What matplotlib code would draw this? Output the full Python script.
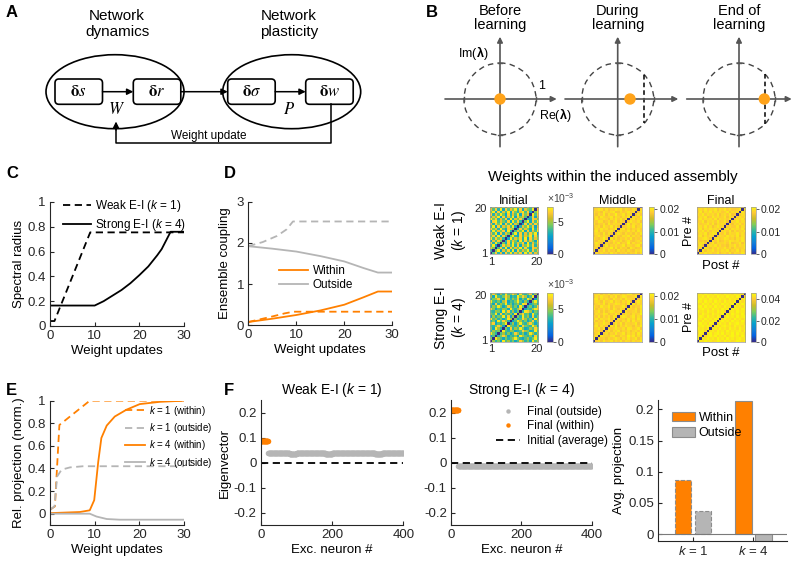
import numpy as np
import matplotlib
matplotlib.use("Agg")
import matplotlib.pyplot as plt
from matplotlib.colors import LinearSegmentedColormap
from matplotlib.patches import Ellipse, FancyBboxPatch, Circle

plt.rcParams["font.family"] = ["Liberation Sans", "DejaVu Sans"]
plt.rcParams["mathtext.fontset"] = "custom"
plt.rcParams["mathtext.rm"] = "Liberation Sans"
plt.rcParams["mathtext.it"] = "Liberation Sans:italic"
plt.rcParams["mathtext.bf"] = "Liberation Sans:bold"
plt.rcParams["axes.unicode_minus"] = False

W, H = 800, 561
ORANGE = "#ff8000"
GRAY = "#b5b5b5"
INK = "#262626"

# ---- C: spectral radius vs weight updates
C_X_WEAK = [0, 1, 9, 30]
C_WEAK = [0.04, 0.04, 0.755, 0.755]
C_X_STRONG = [0, 10, 12, 14, 16, 18, 20, 22, 24, 25, 26, 27, 30]
C_STRONG = [0.165, 0.165, 0.2, 0.245, 0.29, 0.345, 0.41, 0.48, 0.57, 0.62, 0.69, 0.76, 0.76]

# ---- D: ensemble coupling
D_X_OUT_WEAK = [0, 3, 6, 8, 9.3, 30]
D_OUT_WEAK = [1.92, 2.02, 2.17, 2.33, 2.52, 2.52]
D_X_OUT_STRONG = [0, 5, 10, 15, 20, 24, 27, 30]
D_OUT_STRONG = [1.92, 1.86, 1.79, 1.68, 1.55, 1.39, 1.28, 1.28]
D_X_IN_STRONG = [0, 5, 10, 15, 20, 24, 27, 30]
D_IN_STRONG = [0.08, 0.16, 0.25, 0.36, 0.5, 0.68, 0.82, 0.82]
D_X_IN_WEAK = [0, 4.5, 7.6, 9.4, 30]
D_IN_WEAK = [0.08, 0.2, 0.29, 0.33, 0.33]

# ---- E: relative projection
E_X_W_IN = [0, 1.1, 2.1, 8.9, 30]
E_W_IN = [0.035, 0.065, 0.785, 1.0, 1.0]
E_X_W_OUT = [0, 1, 1.6, 2.6, 4.5, 7.4, 30]
E_W_OUT = [0.035, 0.065, 0.33, 0.39, 0.41, 0.42, 0.42]
E_X_S_IN = [0, 6.7, 8.9, 9.9, 10.8, 11.5, 12.7, 14.5, 17.1, 20.1, 24.6, 30]
E_S_IN = [0.005, 0.015, 0.03, 0.12, 0.46, 0.67, 0.78, 0.86, 0.92, 0.97, 0.99, 1.0]
E_X_S_OUT = [0, 8.9, 10.4, 12.7, 15.6, 30]
E_S_OUT = [0.0, 0.0, -0.025, -0.047, -0.053, -0.053]

# ---- F: eigenvector entries, one value per assembly of 20 neurons
ASSEMBLY_SIZE = 20
F_WEAK_WITHIN = 0.087
F_WEAK_OUTSIDE = [0.037, 0.038, 0.037, 0.036, 0.037, 0.038, 0.037, 0.037, 0.036, 0.037,
                  0.038, 0.037, 0.037, 0.038, 0.037, 0.036, 0.037, 0.038, 0.037]
F_STRONG_WITHIN = 0.212
F_STRONG_OUTSIDE = [-0.013, -0.014, -0.012, -0.013, -0.014, -0.013, -0.012, -0.014, -0.013, -0.013,
                    -0.012, -0.014, -0.013, -0.013, -0.012, -0.014, -0.013, -0.012, -0.013]

# ---- bar chart
BAR_CATS = ["$k$ = 1", "$k$ = 4"]
BAR_WITHIN = [0.087, 0.214]
BAR_OUTSIDE = [0.037, -0.013]

# ---- weight matrices (digit grids, value = lo + digit * step, no self-connections)
INIT_WEAK = [
    "93827183927481938274", "28491738291837492837", "74938291837492831874",
    "39172847392817493827", "82937418293748192738", "17384928374192837419",
    "93847281937482918374", "48291837492183749283", "73918274839182738491",
    "29374819283749182739", "84729318749283741928", "39182748391827493817",
    "72849183927491827384", "18937428193827491839", "94827381927483921874",
    "37491827391847392817", "82739418273918472938", "49182739184279381749",
    "73829183749281743928", "28374918273849182734",
]
INIT_STRONG = [
    "35241935241385241935", "42953142359421352493", "13524851324195324183",
    "94213524138524139524", "25341932541238541293", "41952341825394125384",
    "32485129432518432951", "58132493251493258413", "24193852413952413825",
    "93524139524138524193", "15243928153429351824", "43918253419258341932",
    "32541938251432985143", "84132541932584132598", "25394138524193524138",
    "41825392413529841352", "93241581324931528493", "24583194253814295314",
    "51932485132948513924", "38415293485193248159",
]
MID_WEAK = [
    "45364537463546354736", "63547364527453643657", "54736458373645275346",
    "36452735464573654673", "47536543647354836457", "53647364754635743564",
    "64358457363546473546", "35746536474365736453", "46537364547536453647",
    "57364457363654746375", "36475635484573635464", "45637547363645747356",
    "63546374655473836547", "54763463573645475463", "37456536474736546357",
    "46375457365364736548", "53647364584573657364", "64537546733645745736",
    "45763635475736436475", "36547473654637553647",
]
MID_STRONG = [
    "54637457364736536457", "73645364575364745736", "46375546733654857364",
    "35764635474573646375", "64537473657354635647", "45736364575463764573",
    "57364457383647553647", "36457546374736545736", "63547364755364737456",
    "47365573646453746375", "54736463753576457364", "36547635474736536458",
    "45736357645736445637", "73546463753645754736", "64375573644573663547",
    "35647364576453747365", "46537457365364736475", "57364643754637554637",
    "36475536473576445736", "45736473656354773546",
]
FIN_WEAK = [
    "56475645735647365475", "45736574646573547364", "65475364755746365457",
    "47365657464536574657", "56746473655647345736", "64537564734657656475",
    "45675365745764536574", "57364647365475647365", "46573576454736557464",
    "65746465735647364557", "47365756464573656473", "56474635755746447365",
    "64557473656475365746", "45736564745736557465", "57465647365647446573",
    "46573475645736564756", "65746564735647347365", "47365746564573656474",
    "56474657365746445736", "45765476545736564657",
]
FIN_STRONG = [
    "78697867986978679869", "96879786978697868978", "87968979687968978697",
    "69787968979687969786", "78969786978697878969", "97868978697869786978",
    "68979687968978697869", "89786978697869789786", "76978697869786978697",
    "98697869786978697868", "79869786978697869789", "86978697869786978696",
    "97869786978697869787", "68978697869786978698", "89697869786978697869",
    "76978697869786978697", "98697869786978697868", "69786978697869786979",
    "87969786978697869786", "78697869786978697869",
]


def grid(rows, lo, step):
    m = lo + step * np.array([[int(c) for c in r[:20]] for r in rows], dtype=float)
    np.fill_diagonal(m, 0.0)
    return m


def rect(l, t, r, b):
    return [l / W, 1 - b / H, (r - l) / W, (b - t) / H]


parula = LinearSegmentedColormap.from_list("parula", [
    (0.2081, 0.1663, 0.5292), (0.0117, 0.3875, 0.8820), (0.0779, 0.5040, 0.8384),
    (0.0239, 0.6287, 0.8038), (0.1986, 0.7214, 0.6310), (0.5044, 0.7993, 0.3480),
    (0.8000, 0.7406, 0.1590), (0.9955, 0.7861, 0.2073), (0.9763, 0.9831, 0.0538)])


def style(ax, fs=9.5):
    for s in ("top", "right"):
        ax.spines[s].set_visible(False)
    for s in ("left", "bottom"):
        ax.spines[s].set_color(INK)
        ax.spines[s].set_linewidth(0.8)
    ax.tick_params(direction="in", length=3, width=0.8, colors=INK, labelsize=fs, pad=3)
    ax.yaxis.set_major_formatter(plt.FuncFormatter(lambda v, p: f"{v:g}"))


fig = plt.figure(figsize=(8, 5.61), dpi=100)
ov = fig.add_axes([0, 0, 1, 1], zorder=-1)
ov.set_xlim(0, W)
ov.set_ylim(H, 0)
ov.axis("off")

# panel letters
for lab, x, y in [("A", 6, 12), ("B", 426, 12), ("C", 6, 173), ("D", 224, 173),
                  ("E", 6, 390), ("F", 224, 390)]:
    ov.text(x, y, lab, fontsize=12, fontweight="bold", va="center", ha="left")

# ---- A: schematic
ov.text(117, 24, "Network\ndynamics", ha="center", va="center", fontsize=11, linespacing=1.1)
ov.text(289, 24, "Network\nplasticity", ha="center", va="center", fontsize=11, linespacing=1.1)
for cx in (115, 291.7):
    ov.add_patch(Ellipse((cx, 91.7), 138, 74, fill=False, lw=1.2, ec="black"))
boxes = [(55, r"$\mathbf{\delta}s$"), (133.3, r"$\mathbf{\delta}r$"),
         (227.7, r"$\mathbf{\delta}\sigma$"), (305.7, r"$\mathbf{\delta}w$")]
for x0, lab in boxes:
    ov.add_patch(FancyBboxPatch((x0, 79), 47.5, 25.3, boxstyle="round,pad=0,rounding_size=4",
                                fill=False, lw=1.2, ec="black"))
    ov.text(x0 + 23.7, 91.7, lab, ha="center", va="center", fontsize=12, math_fontfamily="stix")
arr = dict(arrowstyle="-|>", color="black", lw=1.1, mutation_scale=9, shrinkA=0, shrinkB=0)
for xa, xb in [(102.5, 133.3), (180.8, 227.7), (275.2, 305.7)]:
    ov.annotate("", xy=(xb, 91.7), xytext=(xa, 91.7), arrowprops=arr)
ov.text(116.7, 108.5, "$W$", ha="center", va="center", fontsize=12, math_fontfamily="stix")
ov.text(289.3, 108.5, "$P$", ha="center", va="center", fontsize=12, math_fontfamily="stix")
ov.plot([331, 331, 116, 116], [104.3, 143.3, 143.3, 128], color="black", lw=1.1)
ov.annotate("", xy=(116, 121.5), xytext=(116, 130), arrowprops=arr)
ov.text(208.3, 136, "Weight update", ha="center", va="center", fontsize=8.5)

# ---- B: eigenvalue diagrams
acol = "#555555"
barr = dict(arrowstyle="-|>", color=acol, lw=1.2, mutation_scale=8, shrinkA=0, shrinkB=0)
diagrams = [(500, 445, 556.7, "Before\nlearning", None, None),
            (617.7, 565, 678.3, "During\nlearning", 630, 644.3),
            (739, 686.7, 791.7, "End of\nlearning", 764.3, 765)]
for cx, xl, xr, title, dot, dash in diagrams:
    cy = 99
    ov.text(cx, 18, title, ha="center", va="center", fontsize=10.5, linespacing=1.05)
    ov.add_patch(Circle((cx, cy), 36, fill=False, ls=(0, (4, 3)), lw=1.0, ec="#444444"))
    ov.annotate("", xy=(xr, cy), xytext=(xl, cy), arrowprops=barr)
    ov.annotate("", xy=(cx, 36.7), xytext=(cx, 146.7), arrowprops=barr)
    for d in (-36, 36):
        ov.plot([cx + d, cx + d], [cy - 2, cy + 2], color=acol, lw=1)
        ov.plot([cx - 2, cx + 2], [cy + d, cy + d], color=acol, lw=1)
    if dash is not None:
        half = np.sqrt(36 ** 2 - (dash - cx) ** 2)
        ov.plot([dash, dash], [cy - half, cy + half], color="black", lw=1.1, ls=(0, (3, 2)))
    ov.add_patch(Circle((dot if dot else cx, cy), 5, color="#ffa31a", zorder=5))
ov.text(473, 53, r"Im($\mathbf{\lambda}$)", ha="center", va="center", fontsize=9)
ov.text(541.7, 86, "1", ha="center", va="center", fontsize=9)
ov.text(555, 115, r"Re($\mathbf{\lambda}$)", ha="center", va="center", fontsize=9)

# ---- C
axC = fig.add_axes(rect(50, 202, 184, 326))
axC.plot(C_X_WEAK, C_WEAK, color="black", ls=(0, (4, 2.5)), lw=1.3, label="Weak E-I ($k$ = 1)")
axC.plot(C_X_STRONG, C_STRONG, color="black", lw=1.3, label="Strong E-I ($k$ = 4)")
axC.set_xlim(0, 30)
axC.set_ylim(0, 1)
axC.set_xticks([0, 10, 20, 30])
axC.set_yticks(np.arange(0, 1.01, 0.2))
style(axC)
axC.set_xlabel("Weight updates", fontsize=9.5, labelpad=2)
axC.set_ylabel("Spectral radius", fontsize=9.5, labelpad=2)
axC.legend(loc="upper left", bbox_to_anchor=(0.1, 1.03), frameon=False, fontsize=8.5,
           handlelength=2.3, handletextpad=0.4, labelspacing=0.2, borderpad=0, borderaxespad=0)

# ---- D
axD = fig.add_axes(rect(248.3, 201.7, 392.3, 325.3))
axD.plot(D_X_OUT_WEAK, D_OUT_WEAK, color=GRAY, ls=(0, (4, 2.5)), lw=1.3)
axD.plot(D_X_OUT_STRONG, D_OUT_STRONG, color=GRAY, lw=1.3, label="Outside")
axD.plot(D_X_IN_WEAK, D_IN_WEAK, color=ORANGE, ls=(0, (4, 2.5)), lw=1.3)
axD.plot(D_X_IN_STRONG, D_IN_STRONG, color=ORANGE, lw=1.3, label="Within")
axD.set_xlim(0, 30)
axD.set_ylim(0, 3)
axD.set_xticks([0, 10, 20, 30])
axD.set_yticks([0, 1, 2, 3])
style(axD)
axD.set_xlabel("Weight updates", fontsize=9.5, labelpad=2)
axD.set_ylabel("Ensemble coupling", fontsize=9.5, labelpad=4)
hD, lD = axD.get_legend_handles_labels()
axD.legend(hD[::-1], lD[::-1], loc="center left", bbox_to_anchor=(0.17, 0.38), frameon=False,
           fontsize=8.5, handlelength=2.5, handletextpad=0.4, labelspacing=0.15, borderpad=0)

# ---- E
axE = fig.add_axes(rect(50, 400.7, 184, 525))
axE.plot(E_X_W_IN, E_W_IN, color=ORANGE, ls=(0, (4, 2.5)), lw=1.3, label="$k$ = 1 (within)")
axE.plot(E_X_W_OUT, E_W_OUT, color=GRAY, ls=(0, (4, 2.5)), lw=1.3, label="$k$ = 1 (outside)")
axE.plot(E_X_S_IN, E_S_IN, color=ORANGE, lw=1.3, label="$k$ = 4 (within)")
axE.plot(E_X_S_OUT, E_S_OUT, color=GRAY, lw=1.3, label="$k$ = 4 (outside)")
axE.set_xlim(0, 30)
axE.set_ylim(-0.1, 1)
axE.set_xticks([0, 10, 20, 30])
axE.set_yticks(np.arange(0, 1.01, 0.2))
style(axE)
axE.set_xlabel("Weight updates", fontsize=9.5, labelpad=2)
axE.set_ylabel("Rel. projection (norm.)", fontsize=9.5, labelpad=2)
axE.legend(loc="center left", bbox_to_anchor=(0.52, 0.71), frameon=False, fontsize=7,
           handlelength=2.1, handletextpad=0.4, labelspacing=0.35, borderpad=0)

# ---- F eigenvector panels
within_idx = np.arange(1, ASSEMBLY_SIZE + 1)
outside_idx = np.arange(ASSEMBLY_SIZE + 1, ASSEMBLY_SIZE * (len(F_WEAK_OUTSIDE) + 1) + 1)
for rr, title, win, wout in [((260.7, 400, 403.3, 525.3), "Weak E-I ($k$ = 1)", F_WEAK_WITHIN, F_WEAK_OUTSIDE),
                             ((451, 400, 591.7, 525.3), "Strong E-I ($k$ = 4)", F_STRONG_WITHIN, F_STRONG_OUTSIDE)]:
    ax = fig.add_axes(rect(*rr))
    ax.plot(outside_idx, np.repeat(wout, ASSEMBLY_SIZE), "o", color=GRAY, ms=4, mew=0,
            label="Final (outside)")
    ax.plot(within_idx, np.full(ASSEMBLY_SIZE, win), "o", color=ORANGE, ms=4, mew=0,
            label="Final (within)")
    ax.plot([0, 400], [0, 0], color="black", ls=(0, (4, 2.5)), lw=1.3, label="Initial (average)")
    ax.set_xlim(0, 400)
    ax.set_ylim(-0.25, 0.25)
    ax.set_xticks([0, 200, 400])
    ax.set_yticks([-0.2, -0.1, 0, 0.1, 0.2])
    style(ax)
    ax.set_title(title, fontsize=10, pad=4)
    ax.set_xlabel("Exc. neuron #", fontsize=9.5, labelpad=2)
    if win == F_WEAK_WITHIN:
        ax.set_ylabel("Eigenvector", fontsize=9.5, labelpad=2)
    else:
        ax.legend(loc="center left", bbox_to_anchor=(0.28, 0.79), frameon=False, fontsize=8.5,
                  handlelength=2.0, handletextpad=0.6, labelspacing=0.2, borderpad=0,
                  markerscale=0.8)

# ---- bar chart
axB = fig.add_axes(rect(658.3, 400, 786.7, 541))
pos = np.arange(1, len(BAR_CATS) + 1)
bw = 0.27
for i in range(len(BAR_CATS)):
    ls = "--" if i == 0 else "-"
    axB.bar(pos[i] - 0.165, BAR_WITHIN[i], bw, color=ORANGE, ec="#8c8c8c", lw=0.8, ls=ls,
            label="Within" if i == 1 else None)
    axB.bar(pos[i] + 0.165, BAR_OUTSIDE[i], bw, color=GRAY, ec="#8c8c8c", lw=0.8, ls=ls,
            label="Outside" if i == 1 else None)
axB.axhline(0, color="#7a7a7a", lw=0.8)
axB.set_xlim(0.43, 2.55)
axB.set_ylim(-0.011, 0.215)
axB.set_xticks(pos)
axB.set_xticklabels(BAR_CATS)
axB.set_yticks([0, 0.05, 0.1, 0.15, 0.2])
style(axB)
axB.set_ylabel("Avg. projection", fontsize=9.5, labelpad=2)
axB.legend(loc="upper left", bbox_to_anchor=(0.06, 0.96), frameon=False, fontsize=9,
           handlelength=1.8, handleheight=0.8, handletextpad=0.3, labelspacing=0.25, borderpad=0)

# ---- weight matrices
ov.text(613, 177, "Weights within the induced assembly", ha="center", va="center", fontsize=11)
mats = [
    [(grid(INIT_WEAK, 0.0025, 0.0005), 0.0073, [0, 0.005], ["0", "5"]),
     (grid(MID_WEAK, 0.0165, 0.0005), 0.021, [0, 0.01, 0.02], ["0", "0.01", "0.02"]),
     (grid(FIN_WEAK, 0.0165, 0.0005), 0.021, [0, 0.01, 0.02], ["0", "0.01", "0.02"])],
    [(grid(INIT_STRONG, 0.0025, 0.0005), 0.0073, [0, 0.005], ["0", "5"]),
     (grid(MID_STRONG, 0.0165, 0.0005), 0.021, [0, 0.01, 0.02], ["0", "0.01", "0.02"]),
     (grid(FIN_STRONG, 0.036, 0.001), 0.0457, [0, 0.02, 0.04], ["0", "0.02", "0.04"])],
]
col_x = [(490, 538.3, 546.7, 552.7), (593.3, 641.7, 649, 654.3), (696.7, 745, 750.7, 756)]
row_y = [(206.7, 254.3), (293.3, 341.7)]
row_labels = ["Weak E-I\n($k$ = 1)", "Strong E-I\n($k$ = 4)"]
col_titles = ["Initial", "Middle", "Final"]
for r in range(2):
    t, b = row_y[r]
    ov.text(451, (t + b) / 2, row_labels[r], rotation=90, ha="center", va="center",
            fontsize=10, linespacing=1.1)
    for c in range(3):
        l, rr, cl, cr = col_x[c]
        m, vmax, cticks, clabels = mats[r][c]
        ax = fig.add_axes(rect(l, t, rr, b))
        im = ax.imshow(m, cmap=parula, vmin=0, vmax=vmax, origin="lower",
                       extent=(0.5, 20.5, 0.5, 20.5), aspect="auto", interpolation="nearest")
        for s in ax.spines.values():
            s.set_color("#9a9a9a")
            s.set_linewidth(0.5)
        if c == 0:
            ax.set_xticks([1, 20])
            ax.set_yticks([1, 20])
            ax.tick_params(length=0, labelsize=8, pad=2, colors=INK)
        else:
            ax.set_xticks([])
            ax.set_yticks([])
        if c == 2:
            ax.set_ylabel("Pre #", fontsize=9, labelpad=1)
            ax.set_xlabel("Post #", fontsize=9.5, labelpad=4)
        if r == 0:
            ax.set_title(col_titles[c], fontsize=9, pad=2)
        cax = fig.add_axes(rect(cl, t, cr, b))
        cb = fig.colorbar(im, cax=cax, ticks=cticks)
        cb.ax.set_yticklabels(clabels)
        cb.outline.set_edgecolor("#9a9a9a")
        cb.outline.set_linewidth(0.5)
        cax.tick_params(length=2, width=0.5, labelsize=7.5, pad=1.5, colors=INK)
        if c == 0:
            cax.text(0.0, 1.04, r"$\times10^{-3}$", transform=cax.transAxes, fontsize=7.5,
                     ha="left", va="bottom", color="#444444")

fig.savefig("out.png", dpi=100)
